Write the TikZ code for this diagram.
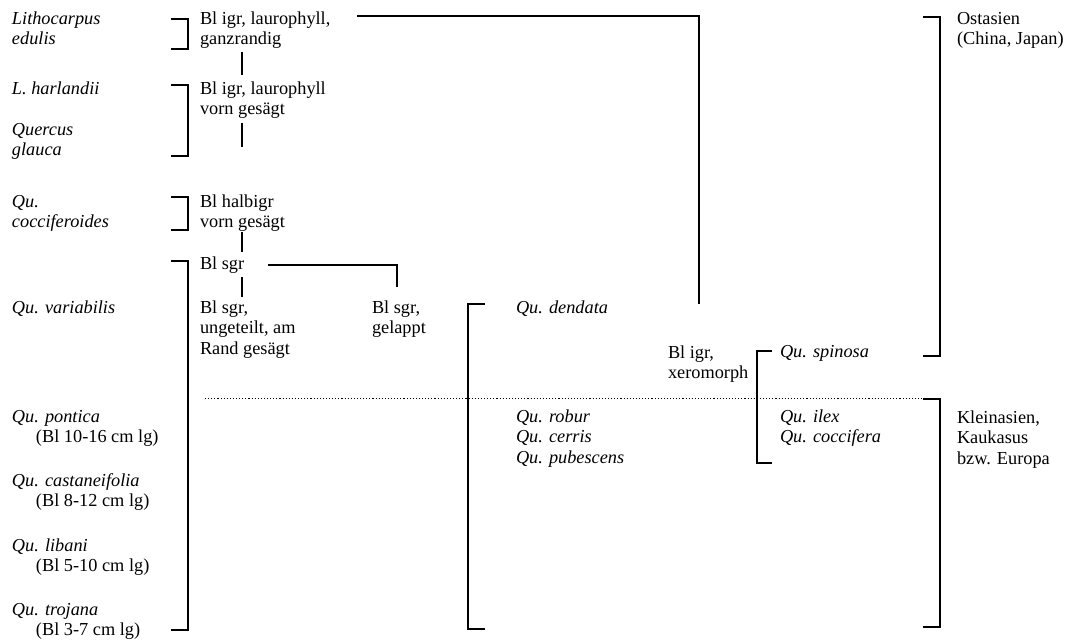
\documentclass[tikz,border=0pt]{standalone}
\usepackage{fontspec}
\setmainfont{Liberation Serif}
\newcommand{\ml}[1]{\vtop{\halign{##\hfil\cr#1\crcr}}}
\begin{document}
\begin{tikzpicture}[x=1pt,y=-1pt,
  txt/.style={anchor=base west,inner sep=0pt,outer sep=0pt,font=\fontsize{18.3}{20.7}\selectfont},
  sp/.style={txt,font=\fontsize{18.3}{20.7}\selectfont\itshape},
  ln/.style={line width=1.5pt,line join=miter},
  dotl/.style={line width=1pt,dash pattern=on 1.1pt off 2pt}]
\useasboundingbox (0,0) rectangle (1072,641);
% left column: species
\node[sp] (lith) at (12,24) {\ml{Lithocarpus\cr edulis}};
\node[sp] (harl) at (12,94) {L. harlandii};
\node[sp] (glau) at (12,135) {\ml{Quercus\cr glauca}};
\node[sp] (cocf) at (12,207) {\ml{Qu.\cr cocciferoides}};
\node[sp] (vari) at (12,313) {Qu. variabilis};
\node[txt] (pont) at (12,422) {\ml{\itshape Qu. pontica\cr\hskip24pt(Bl 10-16 cm lg)}};
\node[txt] (cast) at (12,486) {\ml{\itshape Qu. castaneifolia\cr\hskip24pt(Bl 8-12 cm lg)}};
\node[txt] (liba) at (12,551) {\ml{\itshape Qu. libani\cr\hskip24pt(Bl 5-10 cm lg)}};
\node[txt] (troj) at (12,615) {\ml{\itshape Qu. trojana\cr\hskip24pt(Bl 3-7 cm lg)}};
% leaf characters
\node[txt] (c1) at (200,24) {\ml{Bl igr, laurophyll,\cr ganzrandig}};
\node[txt] (c2) at (200,94) {\ml{Bl igr, laurophyll\cr vorn gesägt}};
\node[txt] (c3) at (200,207) {\ml{Bl halbigr\cr vorn gesägt}};
\node[txt] (c4) at (200,269) {Bl sgr};
\node[txt] (c5) at (200,313) {\ml{Bl sgr,\cr ungeteilt, am\cr Rand gesägt}};
\node[txt] (c6) at (372,313) {\ml{Bl sgr,\cr gelappt}};
\node[sp] (dend) at (516,313) {Qu. dendata};
\node[txt] (xero) at (668,358) {\ml{Bl igr,\cr xeromorph}};
\node[sp] (spin) at (780,357) {Qu. spinosa};
\node[sp] (robu) at (516,422) {\ml{Qu. robur\cr Qu. cerris\cr Qu. pubescens}};
\node[sp] (ilex) at (780,422) {\ml{Qu. ilex\cr Qu. coccifera}};
% regions
\node[txt] (osta) at (957,24) {\ml{Ostasien\cr (China, Japan)}};
\node[txt] (klei) at (957,423) {\ml{Kleinasien,\cr Kaukasus\cr bzw. Europa}};
% brackets
\draw[ln] (171,19) -| (188,49) -- (171,49);
\draw[ln] (171,85) -| (188,156) -- (171,156);
\draw[ln] (171,197) -| (188,230) -- (171,230);
\draw[ln] (171,261) -| (188,630) -- (171,630);
\draw[ln] (485,304) -| (468,629) -- (485,629);
\draw[ln] (772,351) -| (757,463) -- (772,463);
\draw[ln] (923,17) -| (940,356) -- (923,356);
\draw[ln] (923,399) -| (940,627) -- (923,627);
% connectors
\coordinate (v1a) at (242,52);  \coordinate (v1b) at (242,75);
\coordinate (v2a) at (242,123); \coordinate (v2b) at (242,147);
\coordinate (v3a) at (242,232); \coordinate (v3b) at (242,252);
\coordinate (v4a) at (242,277); \coordinate (v4b) at (242,297);
\coordinate (g1) at (268,265);  \coordinate (g2) at (397,287);
\coordinate (t1) at (357,16);   \coordinate (t2) at (699,304);
\coordinate (d1) at (205,398);  \coordinate (d2) at (923,398);
\draw[ln] (v1a) -- (v1b);
\draw[ln] (v2a) -- (v2b);
\draw[ln] (v3a) -- (v3b);
\draw[ln] (v4a) -- (v4b);
\draw[ln] (g1) -| (g2);
\draw[ln] (t1) -| (t2);
\draw[dotl] (d1) -- (d2);
\end{tikzpicture}
\end{document}
